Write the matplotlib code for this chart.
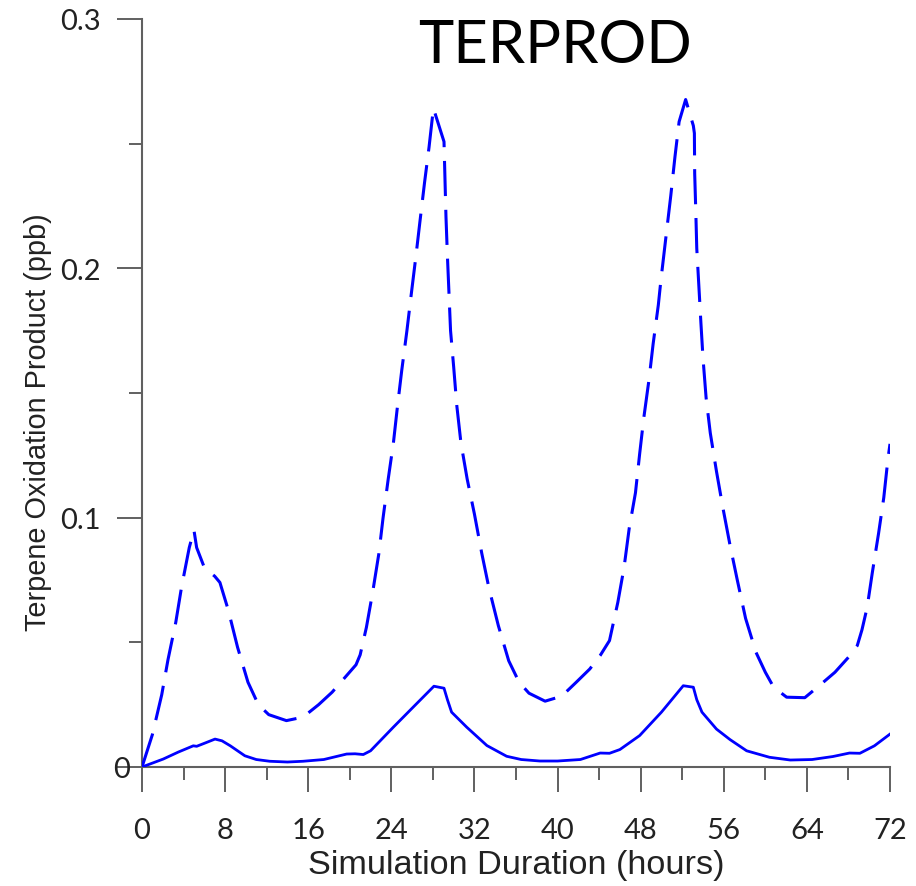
import matplotlib
matplotlib.use("Agg")
import matplotlib.pyplot as plt
from matplotlib.ticker import MultipleLocator
import matplotlib.transforms as mtransforms
import numpy as np

# hours / ppb
hours_dash = [0, 1.0, 1.9, 2.5, 3.25, 3.8, 4.55, 5.0, 5.26, 6.0, 7.0, 7.5, 8.3, 9.2, 10.2,
              11.2, 12.2, 13.9, 15.5, 17.0, 18.3, 20.6, 21.0, 21.6, 22.2, 22.8, 23.2, 23.7,
              24.2, 24.6, 25.0, 25.5, 25.9, 26.37, 26.76, 27.2, 27.63, 28.05, 29.07, 29.17,
              29.26, 29.4, 29.7, 30.0, 30.3, 30.7, 31.3, 32.0, 32.7, 33.4, 34.3, 35.3, 36.3,
              37.25, 38.8, 40.4, 41.8, 43.1, 44.1, 45.0, 45.8, 46.4, 46.9, 47.5, 47.9, 48.3,
              48.8, 49.2, 49.7, 49.96, 50.5, 50.9, 51.3, 51.7, 52.33, 53.07, 53.17, 53.2,
              53.3, 53.4, 53.8, 54.0, 54.3, 54.7, 55.3, 55.9, 56.6, 57.3, 58.1, 59.1, 60.0,
              60.8, 62.05, 63.8, 65.3, 66.7, 68.0, 68.85, 69.3, 69.8, 70.3, 70.9, 71.4,
              71.8, 72.0]
ppb_dash = [0.0, 0.013, 0.029, 0.043, 0.058, 0.072, 0.088, 0.095, 0.088, 0.080, 0.0765,
            0.074, 0.063, 0.048, 0.034, 0.025, 0.021, 0.0186, 0.020, 0.025, 0.030, 0.041,
            0.045, 0.056, 0.070, 0.0856, 0.0998, 0.1155, 0.130, 0.145, 0.159, 0.175, 0.189,
            0.205, 0.219, 0.2345, 0.2486, 0.2642, 0.2508, 0.2348, 0.2206, 0.2048, 0.175,
            0.1605, 0.145, 0.130, 0.1155, 0.1014, 0.0858, 0.0717, 0.0567, 0.0426, 0.034,
            0.0296, 0.0264, 0.0284, 0.034, 0.0393, 0.0447, 0.0507, 0.066, 0.080, 0.0958,
            0.110, 0.1255, 0.140, 0.1553, 0.1697, 0.1853, 0.1957, 0.215, 0.2292, 0.2447,
            0.2588, 0.2677, 0.2572, 0.2542, 0.238, 0.2238, 0.208, 0.178, 0.164, 0.148,
            0.134, 0.1185, 0.1043, 0.089, 0.075, 0.0596, 0.046, 0.038, 0.032, 0.028,
            0.0278, 0.033, 0.038, 0.044, 0.0487, 0.055, 0.064, 0.078, 0.0937, 0.108,
            0.1235, 0.1296]

hours_solid = [0, 2.05, 3.5, 4.94, 5.26, 6.0, 7.03, 7.7, 8.5, 9.9, 11.0, 12.3, 14.0, 15.5,
               17.5, 19.7, 20.5, 21.3, 22.0, 24.2, 26.1, 28.1, 29.07, 29.4, 29.8, 31.25,
               33.2, 35.1, 36.5, 38.3, 40.0, 42.2, 44.1, 45.0, 46.0, 47.9, 50.0, 52.1,
               53.07, 53.4, 53.9, 55.3, 56.6, 58.2, 60.4, 62.4, 64.5, 66.5, 68.1, 69.1,
               70.5, 72.0]
ppb_solid = [0.0, 0.0032, 0.006, 0.0085, 0.0083, 0.0095, 0.0112, 0.0105, 0.0085, 0.0045,
             0.003, 0.0023, 0.002, 0.0023, 0.003, 0.0052, 0.0053, 0.005, 0.0065, 0.016,
             0.024, 0.0324, 0.0316, 0.027, 0.022, 0.016, 0.0086, 0.0043, 0.003, 0.0024,
             0.0024, 0.003, 0.0056, 0.0055, 0.007, 0.0126, 0.022, 0.0326, 0.032, 0.027,
             0.022, 0.0152, 0.011, 0.0065, 0.0039, 0.0028, 0.003, 0.0042, 0.0056, 0.0055,
             0.0085, 0.0132]

xticks = list(range(0, 73, 8))
yticks = [0, 0.1, 0.2, 0.3]
yticklabels = ["0", "0.1", "0.2", "0.3"]

fig = plt.figure(figsize=(9.16, 8.87), dpi=100)
ax = fig.add_axes([142 / 916, 1 - 768 / 887, 748 / 916, 748 / 887])

ax.plot(hours_dash, ppb_dash, color="#0000ff", lw=2.2, linestyle=(0, (11.5, 4.5)),
        dash_capstyle="butt")
ax.plot(hours_solid, ppb_solid, color="#0000ff", lw=2.0)

ax.set_xlim(0, 72)
ax.set_ylim(0, 0.3)

# only left and bottom axes, grey
for side in ["top", "right"]:
    ax.spines[side].set_visible(False)
for side in ["left", "bottom"]:
    ax.spines[side].set_color("#606060")
    ax.spines[side].set_linewidth(1.5)
    ax.spines[side].set_zorder(0)

ax.set_xticks(xticks)
ax.set_yticks(yticks)
ax.set_yticklabels(yticklabels)
ax.xaxis.set_minor_locator(MultipleLocator(4))
ax.yaxis.set_minor_locator(MultipleLocator(0.05))
ax.tick_params(which="major", direction="out", length=18, width=1.4, color="#606060")
ax.tick_params(which="minor", direction="out", length=9.5, width=1.4, color="#606060")
ax.tick_params(axis="x", which="major", pad=18)
ax.tick_params(axis="y", which="major", pad=12)
for lab in ax.get_xticklabels() + ax.get_yticklabels():
    lab.set_fontfamily("Lato")
    lab.set_fontsize(21)
    lab.set_color("#222222")

# the "0" on the y axis sits closer to the origin
ylabs = ax.get_yticklabels()
ylabs[0].set_transform(ylabs[0].get_transform() +
                       mtransforms.ScaledTranslation(0.3, 0, fig.dpi_scale_trans))

ax.set_xlabel("Simulation Duration (hours)", fontfamily="Liberation Sans", fontsize=24.7,
              color="#222222", labelpad=4)
ax.set_ylabel("Terpene Oxidation Product (ppb)", fontfamily="Liberation Sans", fontsize=20.8,
              color="#222222")
ax.yaxis.set_label_coords(-0.12, 0.4626)

fig.text(555 / 916, 1 - 46 / 887, "TERPROD", fontfamily="Lato", fontsize=43,
         ha="center", va="center", color="black")

fig.savefig("out.png", dpi=100, facecolor="white")
